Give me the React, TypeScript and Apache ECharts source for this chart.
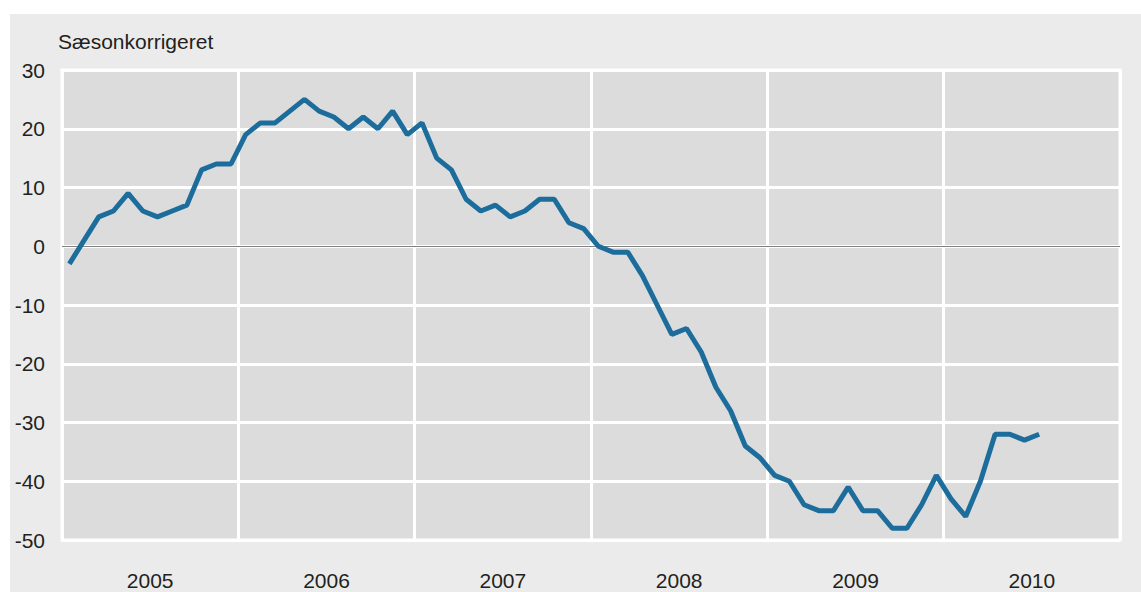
import React, { useEffect, useRef } from "react";
import * as echarts from "echarts";

const years = ["2005", "2006", "2007", "2008", "2009", "2010"];
const yTicks = { min: -50, max: 30, interval: 10 };
const v2005 = [-3, 1, 5, 6, 9, 6, 5, 6, 7, 13, 14, 14];
const v2006 = [19, 21, 21, 23, 25, 23, 22, 20, 22, 20, 23, 19];
const v2007 = [21, 15, 13, 8, 6, 7, 5, 6, 8, 8, 4, 3];
const v2008 = [0, -1, -1, -5, -10, -15, -14, -18, -24, -28, -34, -36];
const v2009 = [-39, -40, -44, -45, -45, -41, -45, -45, -48, -48, -44, -39];
const v2010 = [-43, -46, -40, -32, -32, -33, -32];
const yName = "Sæsonkorrigeret";

const FONT = "'Liberation Sans', Arial, sans-serif";
const TXT = "#231f20";

export default function App() {
  const ref = useRef<HTMLDivElement>(null);
  useEffect(() => {
    if (!ref.current) return;
    const chart = echarts.init(ref.current, null, { renderer: "svg" });
    const values = [...v2005, ...v2006, ...v2007, ...v2008, ...v2009, ...v2010];
    const months = years.length * 12;
    const data = values.map((v, i) => [i + 0.5, v]);
    chart.setOption({
      animation: false,
      backgroundColor: "#ebebeb",
      graphic: [
        { type: "rect", left: 0, top: 0, shape: { width: 1141, height: 14 }, style: { fill: "#ffffff" }, z: 100 },
        { type: "rect", left: 0, top: 0, shape: { width: 10, height: 592 }, style: { fill: "#ffffff" }, z: 100 },
        {
          type: "text",
          left: 58,
          top: 31,
          style: { text: yName, font: `21px ${FONT}`, fill: TXT },
        },
      ],
      grid: {
        left: 62,
        top: 70,
        right: 21,
        bottom: 52,
        show: true,
        backgroundColor: "#dcdcdc",
        borderColor: "#ffffff",
        borderWidth: 3,
      },
      xAxis: [
        {
          type: "category",
          data: years,
          boundaryGap: true,
          axisLine: { show: false },
          axisTick: { show: false },
          splitLine: { show: true, lineStyle: { color: "#ffffff", width: 3 } },
          axisLabel: { margin: 30, fontSize: 21, fontFamily: FONT, color: TXT },
        },
        { type: "value", min: 0, max: months, show: false },
      ],
      yAxis: {
        type: "value",
        min: yTicks.min,
        max: yTicks.max,
        interval: yTicks.interval,
        axisLine: { show: false },
        axisTick: { show: false },
        splitLine: { show: true, lineStyle: { color: "#ffffff", width: 3 } },
        axisLabel: { margin: 17, fontSize: 21, fontFamily: FONT, color: TXT },
      },
      series: [
        {
          type: "line",
          xAxisIndex: 1,
          data,
          showSymbol: false,
          symbol: "none",
          lineStyle: { color: "#1c6d9c", width: 5 },
          markLine: {
            silent: true,
            symbol: "none",
            label: { show: false },
            lineStyle: { color: "#808080", width: 1.2, type: "solid" },
            data: [{ yAxis: 0 }],
            z: 1,
          },
          z: 5,
        },
      ],
    });
    return () => chart.dispose();
  }, []);
  return <div ref={ref} style={{ position: "absolute", left: 0, top: 0, width: 1141, height: 592 }} />;
}
